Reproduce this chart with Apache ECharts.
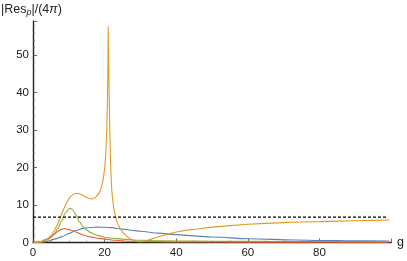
<!DOCTYPE html>
<html>
<head>
<meta charset="utf-8">
<script src="https://cdn.jsdelivr.net/npm/echarts@6/dist/echarts.min.js"></script>
<style>html,body{margin:0;padding:0;background:#fff}#c{width:407px;height:261px}</style>
</head>
<body>
<div id="c"></div>
<script>
// ---- data ----
const blueG   = [0,2,4,6,8,10,12,14,16,18,20,22,25,28,30,35,40,46,50,60,73.5,80,90,99.5];
const blueV   = [0,0.05,0.3,0.9,1.5,2.4,3.2,3.75,4.0,4.1,4.05,3.95,3.55,3.2,3.0,2.5,2.1,1.7,1.45,1.0,0.67,0.55,0.45,0.4];

const orangeG = [0,1,2,3,4,5,6,7,8,8.5,9,9.5,10,10.5,11,11.5,12,12.5,13,13.5,14,14.5,15,15.5,16,16.5,17,17.5,18,18.5,19,19.5,20,20.3,20.6,20.8,20.95,21.0,21.1,21.3,21.5,21.7,22.0,22.3,22.6,23,23.5,24,24.5,25,25.5,26,27,28,29,30,31,32,33,34,36,38,40,43,46,50,55,60,65,70,75,80,85,90,95,99.5];
const orangeV = [0,0.03,0.15,0.45,0.9,1.8,3.2,5.2,7.6,8.8,9.8,10.8,11.6,12.2,12.7,13.0,13.1,13.1,13.0,12.8,12.5,12.25,12.0,11.8,11.65,11.6,11.7,12.0,12.4,13.2,14.4,16.3,19.5,23,30,38,50,57.5,50,38,28,20,14,11,9,7.0,5.4,4.3,3.5,2.8,2.3,1.8,1.1,0.6,0.3,0.2,0.3,0.6,0.9,1.2,1.8,2.3,2.8,3.3,3.6,4.1,4.5,4.85,5.1,5.3,5.45,5.55,5.7,5.8,5.9,6.0];

const greenG  = [0,2,4,5,6,7,8,9,10,10.5,11,12,13,14,15,16,17,18,20,22,25,30,35,40,50,60,80,99.5];
const greenV  = [0,0.1,0.7,1.3,2.3,3.8,5.8,7.8,9.0,9.1,8.8,7.3,5.5,4.2,3.3,2.7,2.2,1.9,1.4,1.15,0.9,0.6,0.45,0.4,0.35,0.3,0.25,0.2];

const redG    = [0,2,4,5,6,7,8,8.7,9.5,10,11,12,13,14,16,18,20,23,27,30,40,60,99.5];
const redV    = [0,0.2,1.0,1.6,2.3,3.0,3.5,3.7,3.6,3.5,3.2,2.8,2.4,2.0,1.5,1.15,0.9,0.6,0.3,0.25,0.15,0.1,0.05];

const threshold = 6.75;
const thresholdG = [0, 99];

const xTicks = [0,20,40,60,80];
const yTicks = [0,10,20,30,40,50];

const pairs = (g, v) => g.map((x, i) => [x, v[i]]);

const chart = echarts.init(document.getElementById('c'), null, {renderer: 'canvas'});
const font = 'Liberation Sans, Arial, sans-serif';
const lineSeries = (name, g, v, color, smooth) => ({
  name, type: 'line', data: pairs(g, v), showSymbol: false, smooth: smooth, smoothMonotone: 'x',
  lineStyle: {color, width: 1.1}, z: 3, animation: false
});

chart.setOption({
  animation: false,
  grid: {left: 33, right: 11, top: 21, bottom: 18.5, containLabel: false},
  graphic: [{
    type: 'text', left: 1, top: 3,
    style: {
      text: '|Res{s|p}|/(4{i|π})',
      font: '12.5px ' + font, fill: '#222',
      rich: {
        s: {fontSize: 9, fontStyle: 'italic', fontFamily: font, fill: '#222', padding: [5, 0, 0, 0]},
        i: {fontSize: 12.5, fontStyle: 'italic', fontFamily: font, fill: '#222'}
      }
    }
  }],
  xAxis: {
    type: 'value', min: 0, max: 100, interval: 20,
    name: 'g', nameLocation: 'end', nameGap: 6,
    nameTextStyle: {fontFamily: font, fontSize: 12.5, color: '#222', verticalAlign: 'middle'},
    axisLine: {show: true, onZero: false, lineStyle: {color: '#222', width: 1.4}},
    axisTick: {show: true, inside: true, length: 4, lineStyle: {color: '#444', width: 0.8}},
    minorTick: {show: true, splitNumber: 4, length: 2, lineStyle: {color: '#666', width: 0.6}},
    axisLabel: {fontFamily: font, fontSize: 11.5, color: '#222', margin: 4,
      formatter: v => xTicks.includes(v) ? String(v) : ''},
    splitLine: {show: false}
  },
  yAxis: {
    type: 'value', min: 0, max: 59, interval: 10,
    axisLine: {show: true, onZero: false, lineStyle: {color: '#222', width: 1.4}},
    axisTick: {show: true, inside: true, length: 4, lineStyle: {color: '#444', width: 0.8}},
    minorTick: {show: true, splitNumber: 5, length: 2, lineStyle: {color: '#666', width: 0.6}},
    axisLabel: {fontFamily: font, fontSize: 11.5, color: '#222', margin: 4,
      formatter: v => yTicks.includes(v) ? String(v) : ''},
    splitLine: {show: false}
  },
  series: [
    lineSeries('blue', blueG, blueV, '#5E81B5', 0.35),
    lineSeries('green', greenG, greenV, '#8FB032', 0.35),
    lineSeries('red', redG, redV, '#EB6235', 0.35),
    lineSeries('orange', orangeG, orangeV, '#E19C24', false),
    {
      name: 'threshold', type: 'line', data: thresholdG.map(g => [g, threshold]),
      showSymbol: false, z: 4,
      lineStyle: {color: '#000', width: 1.3, type: [3, 2]}
    }
  ]
});
</script>
</body>
</html>
